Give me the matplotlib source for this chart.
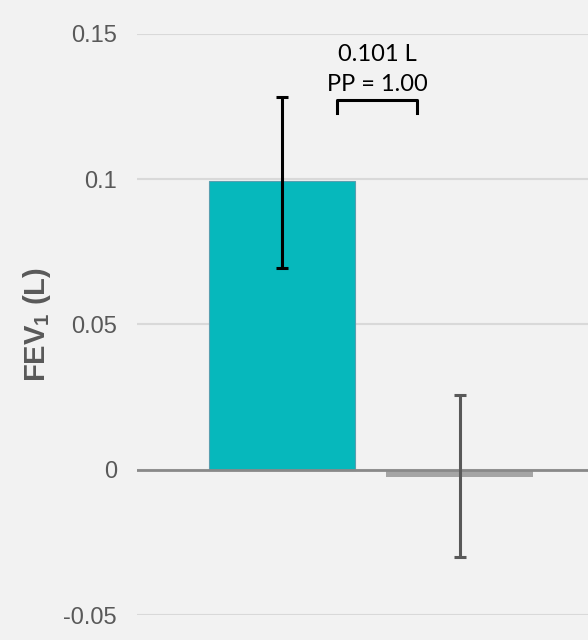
import numpy as np
import matplotlib.pyplot as plt
plt.switch_backend('agg')

plt.rcParams['font.family'] = ['Liberation Sans', 'DejaVu Sans']
plt.rcParams['mathtext.fontset'] = 'custom'
plt.rcParams['mathtext.rm'] = 'Liberation Sans'
plt.rcParams['mathtext.bf'] = 'Liberation Sans:bold'

# change in FEV1 per group, with interval limits
groups = ["Active", "Placebo"]
means = [0.0995, -0.0024]
lower = [0.0693, -0.0300]
upper = [0.1283, 0.0259]
bar_colors = ["#06b8bc", "#a5a5a5"]
err_colors = ["#000000", "#595959"]
diff_label = "0.101 L"
pp_label = "PP = 1.00"
yticks = [-0.05, 0, 0.05, 0.1, 0.15]
ytick_labels = ["-0.05", "0", "0.05", "0.1", "0.15"]

bg = "#f2f2f2"
fig = plt.figure(figsize=(5.88, 6.40), dpi=100, facecolor=bg)
ax = fig.add_axes([0.233, 0.039, 0.767, 0.908], facecolor=bg)

x = np.arange(len(groups))
ax.bar(x[0], means[0], width=0.826, color=bar_colors[0], edgecolor="#5a9fb0", linewidth=0.8, zorder=2)
ax.bar(x[1], means[1], width=0.826, color=bar_colors[1], linewidth=0, zorder=2)

ax.axhline(0, color="#898989", lw=2, zorder=3)

for i in range(len(groups)):
    yerr = [[means[i] - lower[i]], [upper[i] - means[i]]]
    ax.errorbar(x[i], means[i], yerr=yerr, fmt='none', ecolor=err_colors[i],
                elinewidth=2.2, capsize=4.5, capthick=2.2, zorder=4)

# bracket between the groups with the difference label
bx0, bx1 = 0.309, 0.758
btop = upper[0] - 0.0011
bbot = btop - 0.0044
ax.plot([bx0, bx0, bx1, bx1], [bbot, btop, btop, bbot], color="black", lw=2.2,
        solid_joinstyle='round', zorder=4)
xm = (bx0 + bx1) / 2
ax.annotate(pp_label, (xm, btop), xytext=(0, 11), textcoords='offset points',
            ha='center', va='center', fontsize=17, family=['Lato', 'DejaVu Sans'])
ax.annotate(diff_label, (xm, btop), xytext=(0, 33), textcoords='offset points',
            ha='center', va='center', fontsize=17, family=['Lato', 'DejaVu Sans'])

ax.set_ylim(-0.05, 0.15)
ax.set_xlim(-0.815, 1.72)
ax.set_yticks(yticks)
ax.set_yticklabels(ytick_labels)
ax.set_xticks([])
ax.tick_params(axis='y', length=0, pad=14.5, labelsize=17, labelcolor="#595959")
ax.yaxis.grid(True, color="#d9d9d9", lw=1.5, zorder=0)
ax.set_axisbelow(True)
for s in ax.spines.values():
    s.set_visible(False)

ax.set_ylabel(r"$\mathbf{FEV_1}$ $\mathbf{(L)}$", fontsize=21, color="#595959", va='center')
ax.yaxis.set_label_coords(-0.222, 0.5)

fig.savefig("out.png", dpi=100, facecolor=bg)
